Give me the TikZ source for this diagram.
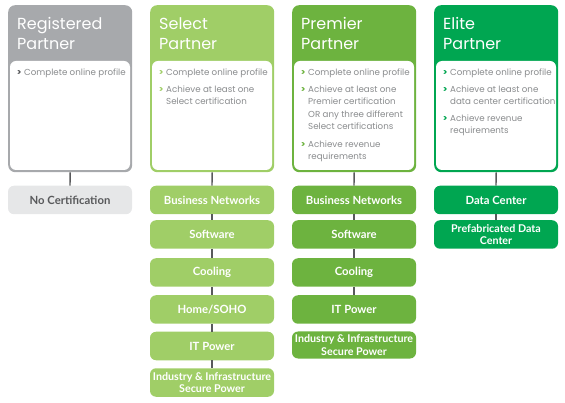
\documentclass[tikz,border=0pt]{standalone}
\usepackage{fontspec}
\setmainfont{Poppins}
\newfontfamily\boxfont{Lato}
\definecolor{cgray}{HTML}{A7A9AC}
\definecolor{csel}{HTML}{A0CE67}
\definecolor{cpre}{HTML}{6DB33F}
\definecolor{celi}{HTML}{00A651}
\definecolor{lgray}{HTML}{E6E7E8}
\definecolor{tgray}{HTML}{8A8C8E}
\definecolor{lgr}{HTML}{58595B}
\tikzset{
  card/.style={fill=#1, rounded corners=7pt, minimum width=124pt, minimum height=167pt, inner sep=0pt, anchor=north west},
  hdr/.style={anchor=base west, text=white, font=\fontsize{16}{20}\selectfont, inner sep=0pt},
  bul/.style={anchor=base west, text=tgray, font=\fontsize{8.7}{12.4}\selectfont, inner sep=0pt},
  cert/.style={fill=#1, rounded corners=6pt, minimum width=124pt, minimum height=28.5pt, inner sep=0pt, text=white, font=\boxfont\fontsize{11.3}{12}\selectfont\bfseries, align=center},
  small/.style={font=\boxfont\fontsize{10.7}{12.2}\selectfont\bfseries},
  conn/.style={draw=lgr, line width=1.4pt},
}
\newcommand\chev[1]{\llap{\textcolor{#1}{\bfseries >}\hspace{2.5pt}}}
\begin{document}
\begin{tikzpicture}[x=1pt,y=-1pt]
\useasboundingbox (0,0) rectangle (565,403);
% ---------- cards ----------
\node[card=cgray] (regcard) at (8,5) {};
\fill[white, rounded corners=6pt] (10,61) rectangle (130,170);
\node[card=csel] (selcard) at (150,5) {};
\fill[white, rounded corners=6pt] (152,61) rectangle (272,170);
\node[card=cpre] (precard) at (292,5) {};
\fill[white, rounded corners=6pt] (294,61) rectangle (414,170);
\node[card=celi] (elicard) at (434,5) {};
\fill[white, rounded corners=6pt] (436,61) rectangle (556,170);
% headers
\node[hdr] (regh1) at (17,30) {Registered};
\node[hdr] (regh2) at (17,50) {Partner};
\node[hdr] (selh1) at (159,30) {Select};
\node[hdr] (selh2) at (159,50) {Partner};
\node[hdr] (preh1) at (301,30) {Premier};
\node[hdr] (preh2) at (301,50) {Partner};
\node[hdr] (elih1) at (443,30) {Elite};
\node[hdr] (elih2) at (443,50) {Partner};
% bullets
\node[bul] (regb1) at (24,75.5) {\chev{lgr}Complete online profile};
\node[bul] (selb1) at (166,75.5) {\chev{csel}Complete online profile};
\node[bul] (selb2) at (166,92.5) {\chev{csel}Achieve at least one};
\node[bul] (selb3) at (166,105) {Select certification};
\node[bul] (preb1) at (308,75.5) {\chev{cpre}Complete online profile};
\node[bul] (preb2) at (308,92.5) {\chev{cpre}Achieve at least one};
\node[bul] (preb3) at (308,105) {Premier certification};
\node[bul] (preb4) at (308,117.5) {OR any three different};
\node[bul] (preb5) at (308,130) {Select certifications};
\node[bul] (preb6) at (308,147.5) {\chev{cpre}Achieve revenue};
\node[bul] (preb7) at (308,160) {requirements};
\node[bul] (elib1) at (450,75.5) {\chev{celi}Complete online profile};
\node[bul] (elib2) at (450,92.5) {\chev{celi}Achieve at least one};
\node[bul] (elib3) at (450,105) {data center certification};
\node[bul] (elib4) at (450,121.5) {\chev{celi}Achieve revenue};
\node[bul] (elib5) at (450,134) {requirements};
% ---------- certification boxes ----------
\node[cert=lgray, text=lgr] (regnc) at (70,200) {No Certification};
\node[cert=csel] (sel1) at (212,200) {Business Networks};
\node[cert=csel] (sel2) at (212,234.5) {Software};
\node[cert=csel] (sel3) at (212,272.5) {Cooling};
\node[cert=csel] (sel4) at (212,309.5) {Home/SOHO};
\node[cert=csel] (sel5) at (212,346) {IT Power};
\node[cert=csel, small] (sel6) at (212,382.5) {Industry \& Infrastructure\\Secure Power};
\node[cert=cpre] (pre1) at (354,200) {Business Networks};
\node[cert=cpre] (pre2) at (354,234.5) {Software};
\node[cert=cpre] (pre3) at (354,272.5) {Cooling};
\node[cert=cpre] (pre4) at (354,309.5) {IT Power};
\node[cert=cpre, small, minimum height=27pt] (pre5) at (354,345) {Industry \& Infrastructure\\Secure Power};
\node[cert=celi] (eli1) at (496,200) {Data Center};
\node[cert=celi, small] (eli2) at (496,234.5) {Prefabricated Data\\Center};
% ---------- connectors ----------
\draw[conn] (regcard.south) -- (regnc.north);
\draw[conn] (selcard.south) -- (sel1.north);
\draw[conn] (sel1.south) -- (sel2.north);
\draw[conn] (sel2.south) -- (sel3.north);
\draw[conn] (sel3.south) -- (sel4.north);
\draw[conn] (sel4.south) -- (sel5.north);
\draw[conn] (sel5.south) -- (sel6.north);
\draw[conn] (precard.south) -- (pre1.north);
\draw[conn] (pre1.south) -- (pre2.north);
\draw[conn] (pre2.south) -- (pre3.north);
\draw[conn] (pre3.south) -- (pre4.north);
\draw[conn] (elicard.south) -- (eli1.north);
\draw[conn] (eli1.south) -- (eli2.north);
\end{tikzpicture}
\end{document}
